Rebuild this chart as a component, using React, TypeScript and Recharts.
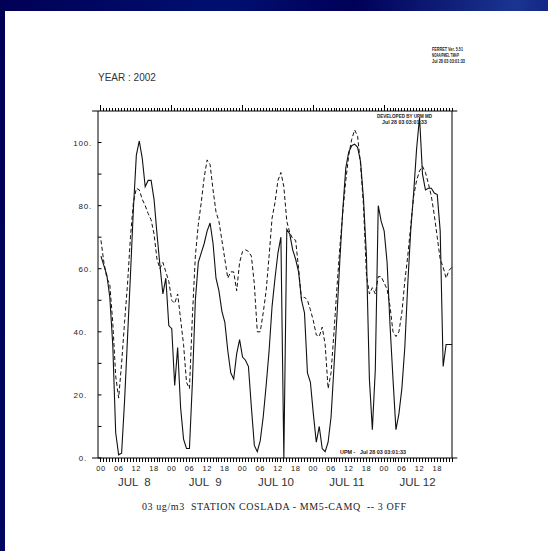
import { LineChart, Line, XAxis, YAxis, ReferenceLine } from 'recharts';

// hourly O3 values, Jul 8 00h .. Jul 12 23h
const OBS = [
  64, 61, 58, 51, 36, 8, 1, 1.5, 18, 38, 58, 79, 96, 100.5, 95, 86, 88, 88, 82, 71, 61, 52, 57, 42,
  41, 23, 35, 16, 6, 3, 3, 24, 50, 62, 65, 68, 72, 74.5, 68, 57, 53, 46.5, 43, 34, 27, 25, 33, 37.5,
  32, 31, 29, 16, 4, 2, 5.5, 13, 23, 34, 48, 57, 65, 70, 0, 72.5, 71, 66, 63, 59, 50, 46, 27, 24,
  14, 5, 10, 3, 2, 5, 13, 29, 45, 63, 79, 92, 97, 99, 99.5, 98.5, 94, 82, 64, 25, 9, 28, 80, 75,
  72, 62, 42, 25, 9, 14, 22, 35, 55, 72, 84, 98, 108, 90, 85, 85.5, 85.5, 84, 83.5, 72, 29, 36, 36, 36,
];
const MODEL = [
  69, 62, 57, 55, 43, 26, 19, 30, 43, 55, 70, 81, 85.5, 85, 82, 80, 77.5, 75.5, 71, 63, 60, 62, 59, 56,
  50, 49, 52, 44, 36, 24, 22, 45, 64, 74, 81, 89, 94.5, 93, 85, 78, 75, 69, 63, 57, 59, 59, 53, 62,
  65.5, 66, 65.5, 64, 55, 40, 40, 46, 53, 64, 76, 81, 88, 90.5, 86, 75, 71.5, 69.5, 69, 60, 50, 51, 50, 47,
  43.5, 39, 38.5, 41.5, 36, 22, 27, 40, 54, 67, 78, 88, 96, 101, 104, 102, 93, 80, 58, 52, 54, 52, 57.5, 57.5,
  55.5, 53.5, 48, 40, 38.5, 40, 46, 56, 64, 73.5, 83, 88, 91, 92.5, 90.5, 87, 83, 77, 70, 63, 60.5, 57, 59.5, 60.5,
];
const HOUR_LABELS = ['00', '06', '12', '18'];
const DAY_LABELS = ['JUL  8', 'JUL  9', 'JUL 10', 'JUL 11', 'JUL 12'];
const Y_TICKS = [0, 10, 20, 30, 40, 50, 60, 70, 80, 90, 100];

const data = OBS.map((v, i) => ({ hour: i, obs: v, model: MODEL[i] }));
const hourTicks = OBS.map((_, i) => i);

const AXIS_FONT = '"Liberation Sans", Arial, sans-serif';

// y arrives 4px below the frame (tickSize=4)
function BottomTick({ x, y, payload }: any) {
  const h = payload.value;
  return (
    <g>
      {h % 6 === 0 && (
        <text x={x} y={y + 9} textAnchor="middle" fontSize={7.5} letterSpacing={0.6}
          fontFamily={AXIS_FONT} fill="#222">
          {HOUR_LABELS[(h % 24) / 6]}
        </text>
      )}
      {h % 24 === 12 && (
        <text x={x - 2} y={y + 24} textAnchor="middle" fontSize={11.5} fontFamily={AXIS_FONT}
          fill="#333" style={{ whiteSpace: 'pre' }}>
          {DAY_LABELS[Math.floor(h / 24)]}
        </text>
      )}
    </g>
  );
}

function LeftTick({ x, y, payload }: any) {
  const v = payload.value;
  return (
    <g>
      <line x1={x} x2={x + 3.5} y1={y} y2={y} stroke="#000" strokeWidth={1} />
      {v % 20 === 0 && (
        <text x={v >= 60 ? x - 6 : x - 11} y={y + 3} textAnchor="end" fontSize={8}
          letterSpacing={0.8} fontFamily={AXIS_FONT} fill="#222">
          {v + '.'}
        </text>
      )}
    </g>
  );
}

function RightTick({ x, y }: any) {
  return <line x1={x} x2={x - 3.5} y1={y} y2={y} stroke="#000" strokeWidth={1} />;
}

export default function App() {
  return (
    <div
      style={{
        position: 'absolute', left: 0, top: 0, width: 548, height: 551, overflow: 'hidden',
        background: 'linear-gradient(100deg, #000055 0%, #001070 35%, #000058 55%, #1a3590 80%, #000066 100%)',
      }}
    >
      <div style={{ position: 'absolute', left: 5, top: 11, width: 543, height: 540, background: '#fff' }} />

      <LineChart
        width={548}
        height={551}
        data={data}
        margin={{ top: 111, right: 76, bottom: 63, left: 57 }}
        style={{ position: 'absolute', left: 0, top: 0 }}
      >
        <XAxis
          xAxisId="b" dataKey="hour" type="number" domain={[-1, 119]} ticks={hourTicks} interval={0}
          orientation="bottom" height={30} axisLine={false} tickLine={false}
          tickSize={4} tickMargin={0} tick={<BottomTick />}
        />
        <YAxis
          yAxisId="l" type="number" domain={[0, 110]} ticks={Y_TICKS} interval={0} width={41}
          axisLine={{ stroke: '#000', strokeWidth: 1 }} tickLine={false} tickSize={0} tickMargin={0}
          tick={<LeftTick />}
        />
        <YAxis
          yAxisId="r" orientation="right" type="number" domain={[0, 110]} ticks={Y_TICKS} interval={0}
          width={20} axisLine={{ stroke: '#000', strokeWidth: 1 }} tickLine={false} tickSize={0}
          tickMargin={0} tick={<RightTick />}
        />
        {/* hourly comb marks above the top frame and below the bottom frame */}
        {hourTicks.map((h) => (
          <ReferenceLine key={'t' + h} xAxisId="b" yAxisId="l" ifOverflow="visible" stroke="#000"
            strokeWidth={1} shapeRendering="crispEdges"
            segment={[{ x: h, y: 110 }, { x: h, y: h % 24 === 0 ? 111.8 : 111 }]} />
        ))}
        {hourTicks.map((h) => (
          <ReferenceLine key={'b' + h} xAxisId="b" yAxisId="l" ifOverflow="visible" stroke="#000"
            strokeWidth={1} shapeRendering="crispEdges"
            segment={[{ x: h, y: 0 }, { x: h, y: -1.25 }]} />
        ))}
        <ReferenceLine xAxisId="b" yAxisId="l" ifOverflow="visible" stroke="#000" strokeWidth={1}
          segment={[{ x: -3, y: 0 }, { x: 120.8, y: 0 }]} />
        <ReferenceLine xAxisId="b" yAxisId="l" ifOverflow="visible" stroke="#000" strokeWidth={1}
          segment={[{ x: -3, y: 110 }, { x: 120.8, y: 110 }]} />
        <Line
          xAxisId="b" yAxisId="l" type="linear" dataKey="model" stroke="#111" strokeWidth={1}
          strokeDasharray="4 2.5" dot={false} activeDot={false} isAnimationActive={false}
        />
        <Line
          xAxisId="b" yAxisId="l" type="linear" dataKey="obs" stroke="#111" strokeWidth={1.1}
          dot={false} activeDot={false} isAnimationActive={false}
        />
      </LineChart>

      <svg width={548} height={551} style={{ position: 'absolute', left: 0, top: 0, pointerEvents: 'none' }}>
        <text x={98} y={81} fontSize={10} fontFamily={AXIS_FONT} fill="#333">YEAR : 2002</text>
        <g fontSize={5} fontWeight="bold" fontFamily={AXIS_FONT} fill="#222">
          <text x={432} y={51} textLength={31} lengthAdjust="spacingAndGlyphs">FERRET Ver. 5.51</text>
          <text x={432} y={57} textLength={27} lengthAdjust="spacingAndGlyphs">NOAA/PMEL TMAP</text>
          <text x={432} y={63} textLength={33} lengthAdjust="spacingAndGlyphs">Jul 28 03 03:01:33</text>
          <text x={377} y={118} textLength={55} lengthAdjust="spacingAndGlyphs">DEVELOPED BY UPM MD</text>
          <text x={382} y={124} textLength={45} lengthAdjust="spacingAndGlyphs">Jul 28 03 03:01:33</text>
          <text x={340} y={454} textLength={66} lengthAdjust="spacingAndGlyphs" style={{ whiteSpace: 'pre' }}>
            UPM -   Jul 28 03 03:01:33
          </text>
        </g>
        <text x={142} y={510} fontSize={10} fontFamily='"Liberation Serif", "DejaVu Serif", serif'
          fill="#222" textLength={264} style={{ whiteSpace: 'pre' }}>
          03 ug/m3  STATION COSLADA - MM5-CAMQ  -- 3 OFF
        </text>
      </svg>
    </div>
  );
}
